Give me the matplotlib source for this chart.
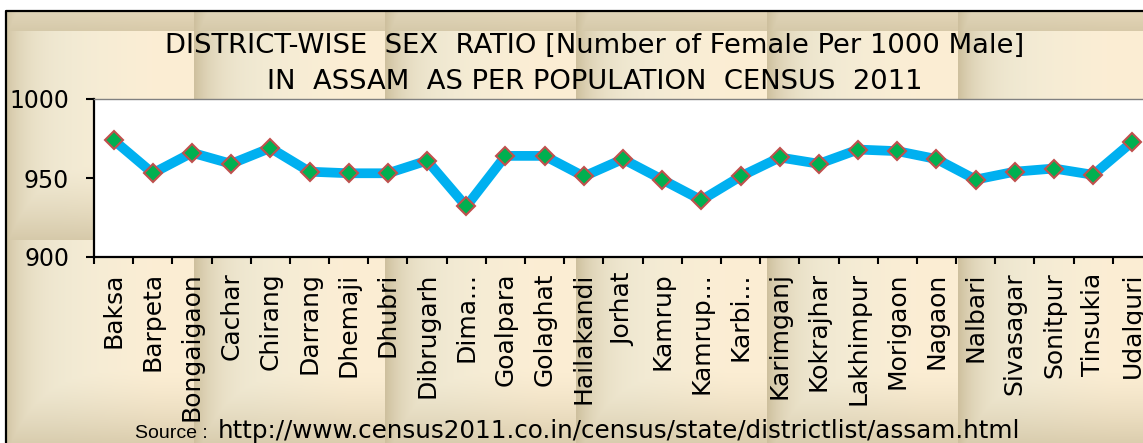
import numpy as np
import matplotlib
matplotlib.use("Agg")
import matplotlib.pyplot as plt

# Census 2011 sex ratio (females per 1000 males), Assam districts
districts = ["Baksa", "Barpeta", "Bongaigaon", "Cachar", "Chirang", "Darrang",
             "Dhemaji", "Dhubri", "Dibrugarh", "Dima...", "Goalpara", "Golaghat",
             "Hailakandi", "Jorhat", "Kamrup", "Kamrup...", "Karbi...", "Karimganj",
             "Kokrajhar", "Lakhimpur", "Morigaon", "Nagaon", "Nalbari", "Sivasagar",
             "Sonitpur", "Tinsukia", "Udalguri"]
sex_ratio = [974, 953, 966, 959, 969, 954, 953, 953, 961, 932, 964, 964, 951, 962,
             949, 936, 951, 963, 959, 968, 967, 962, 949, 954, 956, 952, 973]
y_ticks = [900, 950, 1000]
title_lines = ["DISTRICT-WISE  SEX  RATIO [Number of Female Per 1000 Male]",
               "IN  ASSAM  AS PER POPULATION  CENSUS  2011"]
source_label = "Source :"
source_url = "http://www.census2011.co.in/census/state/districtlist/assam.html"

W, H = 1143, 443
fig = plt.figure(figsize=(W / 100, H / 100), dpi=100)

# parchment-like tiled background (tiles about 191 x 209 px)
yy, xx = np.mgrid[0:H, 0:W]
u = ((xx - 3) % 191) / 191.0
v = ((yy + 178) % 209) / 209.0
light = np.array([243, 236, 214]) / 255
cream = np.array([252, 238, 212]) / 255
dark = np.array([206, 192, 158]) / 255
base = light + (cream - light) * np.clip((u - 0.3) / 0.5, 0, 1)[..., None]
shade = np.maximum(np.exp(-u / 0.12), 0.8 * np.clip((v - 0.6) / 0.4, 0, 1) ** 1.5)
img = base * (1 - shade[..., None]) + dark * shade[..., None]
img[:10, :] = 1
img[:, :5] = 1

ax_bg = fig.add_axes([0, 0, 1, 1])
ax_bg.imshow(img, aspect="auto")
ax_bg.plot([5, 5, W + 10], [H + 10, 10.5, 10.5], color="black", lw=1.6)
ax_bg.set_xlim(-0.5, W - 0.5)
ax_bg.set_ylim(H - 0.5, -0.5)
ax_bg.axis("off")

# plot area runs past the right edge, as in the original
ax = fig.add_axes([94 / W, (H - 257) / H, (1152 - 94) / W, 158 / H])
ax.set_facecolor("white")
x = np.arange(len(districts))
ax.plot(x, sex_ratio, color="#00B0F0", lw=7, marker="D", ms=9.5,
        mfc="#00B050", mec="#C0504D", mew=1.5, clip_on=False)

ax.set_xlim(-0.5, len(districts) - 0.5)
ax.set_ylim(900, 1000)
ax.set_yticks(y_ticks)
ax.set_xticks(x)
ax.set_xticklabels(districts, rotation=90, fontsize=18, va="top")
ax.set_xticks(np.arange(-0.5, len(districts), 1), minor=True)
ax.tick_params(axis="x", which="major", length=0, pad=11)
ax.tick_params(axis="x", which="minor", length=5, width=1.5, direction="out")
ax.tick_params(axis="y", length=6, width=1.5, direction="out", pad=12, labelsize=17)

ax.spines["right"].set_visible(False)
ax.spines["top"].set_color("#808080")
ax.spines["top"].set_linewidth(1)
for s in ("left", "bottom"):
    ax.spines[s].set_linewidth(1.6)
    ax.spines[s].set_color("black")

fig.text(595 / W, (H - 53) / H, title_lines[0], ha="center", va="baseline", fontsize=19.7)
fig.text(595 / W, (H - 89) / H, title_lines[1], ha="center", va="baseline", fontsize=19.7)

fig.text(135 / W, (H - 438) / H, source_label, ha="left", va="baseline", fontsize=14,
         family="Liberation Sans")
fig.text(1020 / W, (H - 438) / H, source_url, ha="right", va="baseline", fontsize=17.7)

fig.savefig("out.png", dpi=100)
